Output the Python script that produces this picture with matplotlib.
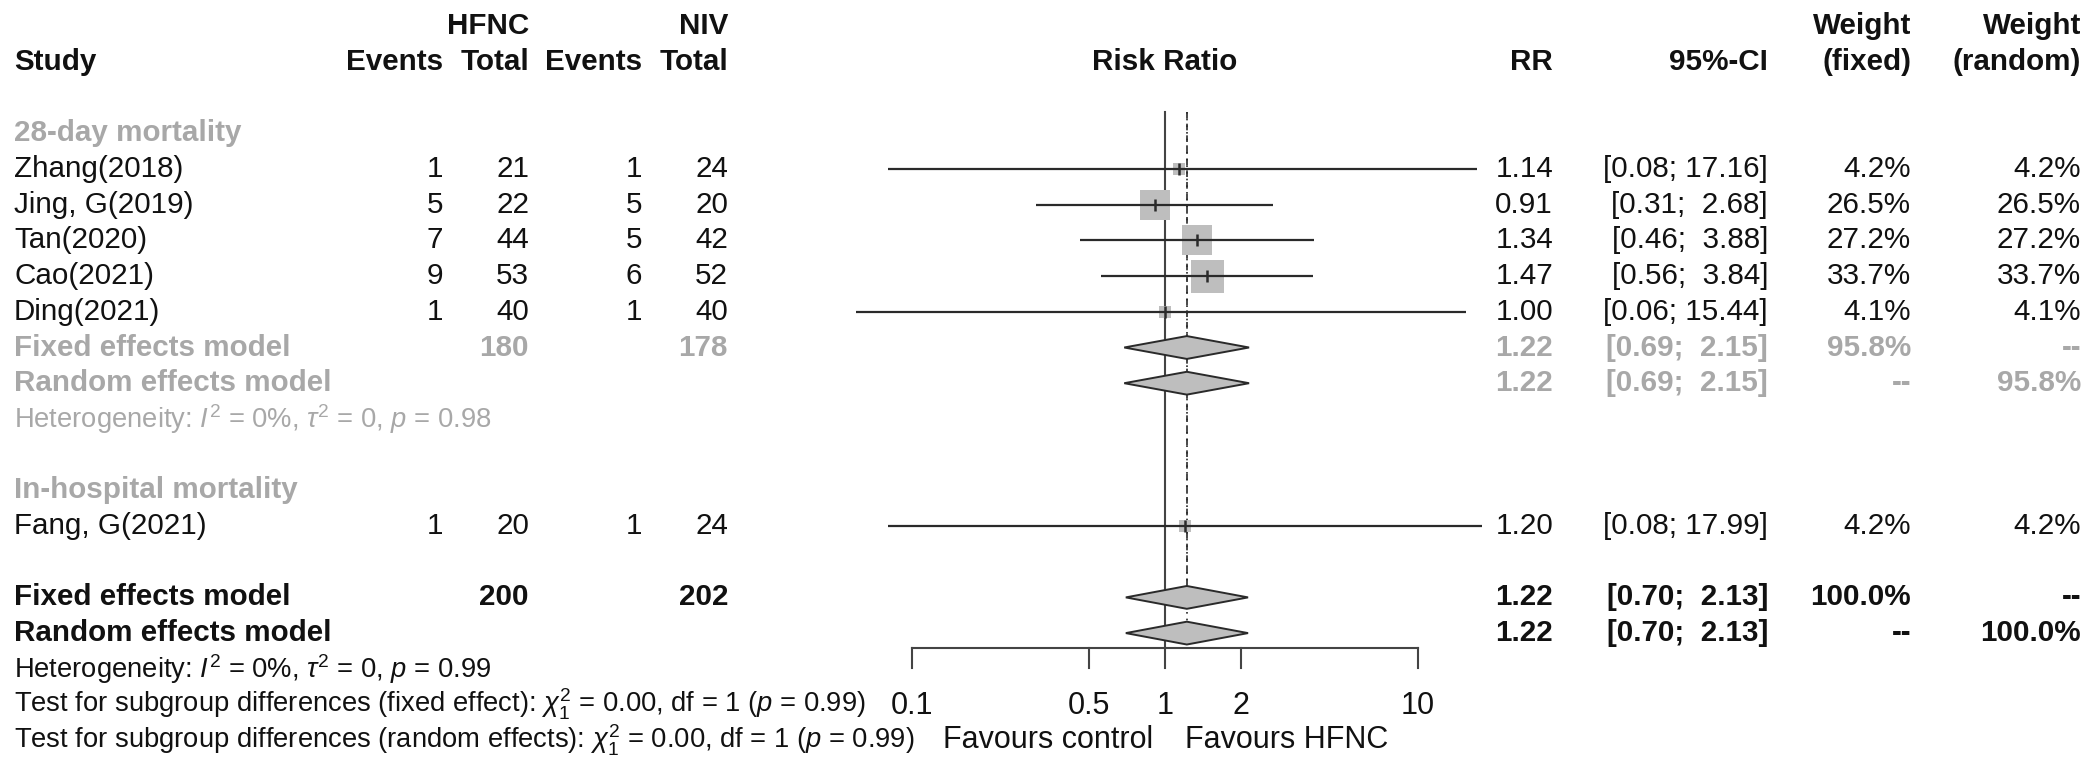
import numpy as np
import matplotlib
matplotlib.use("Agg")
import matplotlib.pyplot as plt
from matplotlib.transforms import blended_transform_factory

plt.rcParams['font.family'] = ['Liberation Sans', 'DejaVu Sans']
plt.rcParams['mathtext.fontset'] = 'custom'
plt.rcParams['mathtext.rm'] = 'Liberation Sans'
plt.rcParams['mathtext.it'] = 'Liberation Sans:italic'
plt.rcParams['mathtext.bf'] = 'Liberation Sans:bold'

# ---------------- data ----------------
studies_28 = ["Zhang(2018)", "Jing, G(2019)", "Tan(2020)", "Cao(2021)", "Ding(2021)"]
hfnc_events_28 = [1, 5, 7, 9, 1]
hfnc_total_28 = [21, 22, 44, 53, 40]
niv_events_28 = [1, 5, 5, 6, 1]
niv_total_28 = [24, 20, 42, 52, 40]
rr_28 = [1.14, 0.91, 1.34, 1.47, 1.00]
lower_28 = [0.08, 0.31, 0.46, 0.56, 0.06]
upper_28 = [17.16, 2.68, 3.88, 3.84, 15.44]
wfix_28 = [4.2, 26.5, 27.2, 33.7, 4.1]
wran_28 = [4.2, 26.5, 27.2, 33.7, 4.1]

studies_hosp = ["Fang, G(2021)"]
hfnc_events_hosp = [1]
hfnc_total_hosp = [20]
niv_events_hosp = [1]
niv_total_hosp = [24]
rr_hosp = [1.20]
lower_hosp = [0.08]
upper_hosp = [17.99]
wfix_hosp = [4.2]
wran_hosp = [4.2]

# subgroup pooled estimate (28-day mortality)
sub_rr, sub_lower, sub_upper, sub_weight = 1.22, 0.69, 2.15, 95.8
sub_hfnc_total, sub_niv_total = 180, 178
sub_het = r"Heterogeneity: $I^2$ = 0%, $\tau^2$ = 0, $p$ = 0.98"

# overall pooled estimate
all_rr, all_lower, all_upper, all_weight = 1.22, 0.70, 2.13, 100.0
all_hfnc_total, all_niv_total = 200, 202
all_het = r"Heterogeneity: $I^2$ = 0%, $\tau^2$ = 0, $p$ = 0.99"
test_fixed = r"Test for subgroup differences (fixed effect): $\chi^2_1$ = 0.00, df = 1 ($p$ = 0.99)"
test_random = r"Test for subgroup differences (random effects): $\chi^2_1$ = 0.00, df = 1 ($p$ = 0.99)"

tick_values = [0.1, 0.5, 1, 2, 10]
tick_labels = ["0.1", "0.5", "1", "2", "10"]
label_left, label_right = "Favours control", "Favours HFNC"

# ---------------- layout ----------------
W, H = 2089, 757
FS = 21.3        # table text
FS_STAT = 19.7   # heterogeneity / test lines
FS_AXIS = 22     # axis tick labels and favours labels
GRAY = "#a8a8a8"
BLACK = "#111111"
LINE = "#2a2a2a"
FILL = "#bebebe"

fig = plt.figure(figsize=(W / 100, H / 100), dpi=100)
ax = fig.add_axes([0, 0, 1, 1])
ax.set_xscale("log")
x_one, decade = 1165.0, 252.9
ax.set_xlim(10 ** ((0 - x_one) / decade), 10 ** ((W - x_one) / decade))
y0, dy = 169.0, 35.7
ax.set_ylim((H - y0) / dy, -y0 / dy)
ax.axis("off")

tr = blended_transform_factory(ax.transAxes, ax.transData)


def txt(xpix, row, s, ha="right", color=BLACK, bold=False, size=FS):
    ax.text(xpix / W, row, s, transform=tr, ha=ha, va="center",
            color=color, fontsize=size, fontweight="bold" if bold else "normal")


col_study = 14
col_he, col_ht, col_ne, col_nt = 443, 529, 642, 728
col_rr, col_ci, col_wf, col_wr = 1553, 1768, 1911, 2081


def ci_text(lo, hi):
    return f"[{lo:.2f}; {hi:5.2f}]"


# headers
txt(col_ht, -4, "HFNC", bold=True)
txt(col_nt, -4, "NIV", bold=True)
txt(col_wf, -4, "Weight", bold=True)
txt(col_wr, -4, "Weight", bold=True)
txt(col_study, -3, "Study", ha="left", bold=True)
txt(col_he, -3, "Events", bold=True)
txt(col_ht, -3, "Total", bold=True)
txt(col_ne, -3, "Events", bold=True)
txt(col_nt, -3, "Total", bold=True)
txt(x_one, -3, "Risk Ratio", ha="center", bold=True)
txt(col_rr, -3, "RR", bold=True)
txt(col_ci, -3, "95%-CI", bold=True)
txt(col_wf, -3, "(fixed)", bold=True)
txt(col_wr, -3, "(random)", bold=True)

max_w = max(wfix_28 + wfix_hosp)
side_max = 33.0  # px for the heaviest study


def study_rows(first_row, names, he, ht, ne, nt, rr, lo, hi, wf, wr):
    for i, name in enumerate(names):
        r = first_row + i
        txt(col_study, r, name, ha="left")
        txt(col_he, r, str(he[i]))
        txt(col_ht, r, str(ht[i]))
        txt(col_ne, r, str(ne[i]))
        txt(col_nt, r, str(nt[i]))
        txt(col_rr, r, f"{rr[i]:.2f}")
        txt(col_ci, r, ci_text(lo[i], hi[i]))
        txt(col_wf, r, f"{wf[i]:.1f}%")
        txt(col_wr, r, f"{wr[i]:.1f}%")
        side_pt = side_max * np.sqrt(wf[i] / max_w) * 0.72
        ax.plot([rr[i]], [r], marker="s", markersize=side_pt, color=FILL,
                markeredgewidth=0, linestyle="none", zorder=2)
        ax.plot([lo[i], hi[i]], [r, r], color=LINE, lw=1.6, zorder=3,
                solid_capstyle="butt")
        ax.plot([rr[i]], [r], marker="|", markersize=8, color=LINE,
                markeredgewidth=1.8, linestyle="none", zorder=4)


def diamond(row, est, lo, hi, half=0.32):
    xs = [lo, est, hi, est, lo]
    ys = [row, row - half, row, row + half, row]
    ax.fill(xs, ys, facecolor=FILL, edgecolor=LINE, lw=1.4, zorder=3)


# 28-day mortality subgroup
txt(col_study, -1, "28-day mortality", ha="left", color=GRAY, bold=True)
study_rows(0, studies_28, hfnc_events_28, hfnc_total_28, niv_events_28, niv_total_28,
           rr_28, lower_28, upper_28, wfix_28, wran_28)
txt(col_study, 5, "Fixed effects model", ha="left", color=GRAY, bold=True)
txt(col_ht, 5, str(sub_hfnc_total), color=GRAY, bold=True)
txt(col_nt, 5, str(sub_niv_total), color=GRAY, bold=True)
txt(col_rr, 5, f"{sub_rr:.2f}", color=GRAY, bold=True)
txt(col_ci, 5, ci_text(sub_lower, sub_upper), color=GRAY, bold=True)
txt(col_wf, 5, f"{sub_weight:.1f}%", color=GRAY, bold=True)
txt(col_wr, 5, "--", color=GRAY, bold=True)
txt(col_study, 6, "Random effects model", ha="left", color=GRAY, bold=True)
txt(col_rr, 6, f"{sub_rr:.2f}", color=GRAY, bold=True)
txt(col_ci, 6, ci_text(sub_lower, sub_upper), color=GRAY, bold=True)
txt(col_wf, 6, "--", color=GRAY, bold=True)
txt(col_wr, 6, f"{sub_weight:.1f}%", color=GRAY, bold=True)
txt(col_study, 7, sub_het, ha="left", color=GRAY, size=FS_STAT)
diamond(5, sub_rr, sub_lower, sub_upper)
diamond(6, sub_rr, sub_lower, sub_upper)

# in-hospital mortality subgroup
txt(col_study, 9, "In-hospital mortality", ha="left", color=GRAY, bold=True)
study_rows(10, studies_hosp, hfnc_events_hosp, hfnc_total_hosp, niv_events_hosp,
           niv_total_hosp, rr_hosp, lower_hosp, upper_hosp, wfix_hosp, wran_hosp)

# overall
txt(col_study, 12, "Fixed effects model", ha="left", bold=True)
txt(col_ht, 12, str(all_hfnc_total), bold=True)
txt(col_nt, 12, str(all_niv_total), bold=True)
txt(col_rr, 12, f"{all_rr:.2f}", bold=True)
txt(col_ci, 12, ci_text(all_lower, all_upper), bold=True)
txt(col_wf, 12, f"{all_weight:.1f}%", bold=True)
txt(col_wr, 12, "--", bold=True)
txt(col_study, 13, "Random effects model", ha="left", bold=True)
txt(col_rr, 13, f"{all_rr:.2f}", bold=True)
txt(col_ci, 13, ci_text(all_lower, all_upper), bold=True)
txt(col_wf, 13, "--", bold=True)
txt(col_wr, 13, f"{all_weight:.1f}%", bold=True)
diamond(12, all_rr, all_lower, all_upper)
diamond(13, all_rr, all_lower, all_upper)
txt(col_study, 14, all_het, ha="left", size=FS_STAT)
txt(col_study, 15, test_fixed, ha="left", size=FS_STAT)
txt(col_study, 16, test_random, ha="left", size=FS_STAT)

# reference line, pooled-estimate lines and axis
top = -1.6
axis_row = 13.43
ax.plot([1, 1], [top, axis_row], color="#444444", lw=1.5, zorder=1)
ax.plot([all_rr, all_rr], [top, 12 - 0.32], color=LINE, lw=1.2,
        linestyle=(0, (4, 3)), zorder=1)
ax.plot([all_rr, all_rr], [top, 13 - 0.32], color=LINE, lw=1.2,
        linestyle=(0, (1, 3)), zorder=1)
ax.plot([tick_values[0], tick_values[-1]], [axis_row, axis_row], color="#444444", lw=1.5)
for v, lab in zip(tick_values, tick_labels):
    ax.plot([v, v], [axis_row, axis_row + 0.56], color="#444444", lw=1.5)
    ax.text(v, 15.05, lab, ha="center", va="center", fontsize=FS_AXIS, color=BLACK)
ax.text(0.9, 16, label_left, ha="right", va="center", fontsize=FS_AXIS, color=BLACK)
ax.text(1.2, 16, label_right, ha="left", va="center", fontsize=FS_AXIS, color=BLACK)

fig.savefig("out.png", dpi=100)
